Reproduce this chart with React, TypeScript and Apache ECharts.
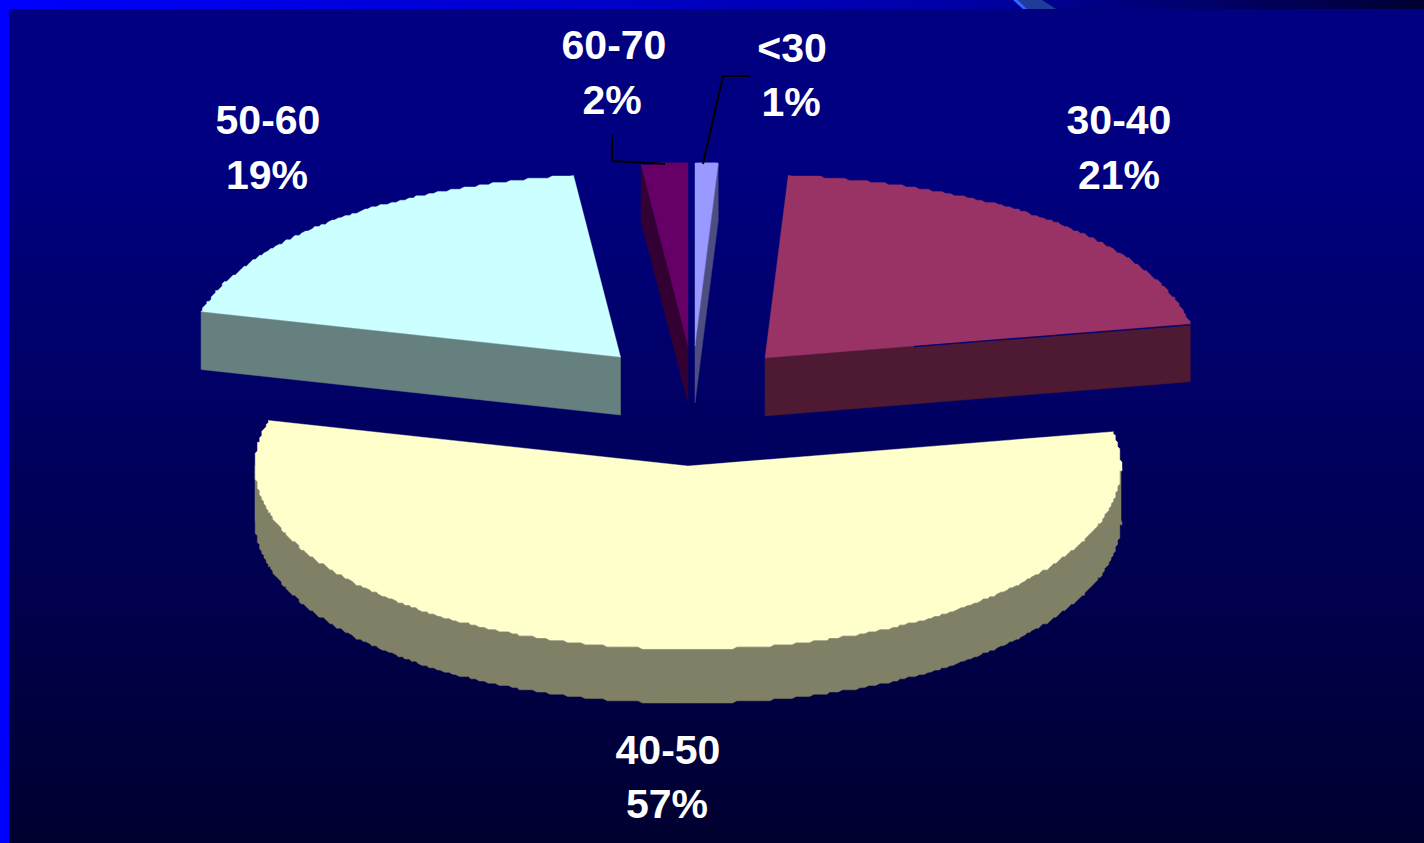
import React, { useEffect, useRef } from "react";
import * as echarts from "echarts";

const categories = ["<30", "30-40", "40-50", "50-60", "60-70"];
const values = [1, 21, 57, 19, 2];

const topColors = ["#9999FF", "#993366", "#FFFFCC", "#CCFFFF", "#660066"];
const wallColors = ["#4D4D80", "#4D1933", "#808066", "#668080", "#330033"];
const apexes = [[695, 346], [765, 358], [688, 466], [620.5, 357], [688, 346]];
const depths = [57, 58, 54, 58, 57];
const nameCentres = [[792, 48], [1119, 120], [668, 750], [268, 120], [614, 45]];
const percentCentres = [[791, 102], [1119, 175], [667, 804], [267, 175], [612, 100]];
const leaders: number[][][] = [
  [[703, 164], [723, 76], [750, 76]],
  [],
  [],
  [],
  [[665, 164], [612, 161], [612, 135]],
];

const RX = 433;
const RY = 183;
const STEP = 0.6;
const GRID = 2.2;

const total = values.reduce((a, b) => a + b, 0);
const starts: number[] = [];
values.reduce((acc, v, i) => {
  starts[i] = acc;
  return acc + v;
}, 0);

function rimPoint(apex: number[], deg: number): number[] {
  const r = (deg * Math.PI) / 180;
  const yn = -Math.cos(r);
  const k = yn < 0 ? 1 - 0.15 * Math.pow(yn, 14) : 1;
  return [apex[0] + RX * Math.sin(r) * k, apex[1] + RY * yn];
}

function snap(p: number[]): number[] {
  return [Math.round(p[0] / GRID) * GRID, Math.round(p[1] / GRID) * GRID];
}

// Samples sit on a fixed angular lattice so that the top face and its wall share one outline.
function rim(apex: number[], a0: number, a1: number): number[][] {
  const pts: number[][] = [rimPoint(apex, a0)];
  for (let k = Math.floor(a0 / STEP) + 1; k * STEP < a1; k++) {
    pts.push(snap(rimPoint(apex, k * STEP)));
  }
  pts.push(rimPoint(apex, a1));
  return pts;
}

function renderSlice(_params: any, api: any) {
  const i = api.value(0) as number;
  const start = api.value(1) as number;
  const v = api.value(2) as number;
  const a0 = (start / total) * 360;
  const a1 = ((start + v) / total) * 360;
  const apex = apexes[i];
  const d = depths[i];
  const arc = rim(apex, a0, a1);
  const children: any[] = [];
  const down = (p: number[]) => [p[0], p[1] + d];
  const wall = (points: number[][]) =>
    children.push({
      type: "polygon",
      shape: { points },
      style: { fill: wallColors[i], stroke: wallColors[i], lineWidth: 0.5 },
    });

  const first = arc[0];
  const last = arc[arc.length - 1];
  // visible radial faces: the clockwise end on the right half, the start on the left half
  if (a1 > 0 && a1 < 180) wall([apex, last, down(last), down(apex)]);
  if (a0 > 180 && a0 < 360) wall([apex, first, down(first), down(apex)]);
  // visible outer wall (front half of the rim)
  const frontFrom = Math.max(a0, 90);
  const frontTo = Math.min(a1, 270);
  if (frontTo > frontFrom) {
    const front = rim(apex, frontFrom, frontTo);
    wall([...front, ...front.slice().reverse().map(down)]);
  }
  // top face
  children.push({
    type: "polygon",
    shape: { points: [apex, ...arc] },
    style: { fill: topColors[i], stroke: topColors[i], lineWidth: 0.4 },
  });
  // thin seam where the large right-hand slice meets its wall
  if (a1 > 45 && a1 < 90) {
    const mid = [apex[0] + (last[0] - apex[0]) * 0.35, apex[1] + (last[1] - apex[1]) * 0.35 + 0.6];
    children.push({
      type: "polyline",
      shape: { points: [mid, [last[0], last[1] + 1.2]] },
      style: { stroke: "#000078", lineWidth: 1.2, fill: "none" },
    });
  }
  // leader line
  if (leaders[i].length) {
    children.push({
      type: "polyline",
      shape: { points: leaders[i] },
      style: { stroke: "#000000", lineWidth: 2, fill: "none" },
    });
  }
  // labels
  const pct = Math.round((v / total) * 100) + "%";
  const textAt = (text: string, c: number[]) =>
    children.push({
      type: "text",
      x: c[0],
      y: c[1],
      style: {
        text,
        fill: "#FFFFFF",
        font: 'bold 41px "Liberation Sans", Arial, sans-serif',
        align: "center",
        verticalAlign: "middle",
      },
    });
  textAt(categories[i], nameCentres[i]);
  textAt(pct, percentCentres[i]);
  return { type: "group", children };
}

export default function App() {
  const ref = useRef<HTMLDivElement>(null);
  useEffect(() => {
    document.body.style.margin = "0";
    const chart = echarts.init(ref.current!, undefined, { renderer: "svg" });
    chart.setOption({
      animation: false,
      backgroundColor: {
        type: "linear",
        x: 0,
        y: 0,
        x2: 0,
        y2: 1,
        colorStops: [
          { offset: 0, color: "#000080" },
          { offset: 0.2, color: "#000080" },
          { offset: 1, color: "#000030" },
        ],
      },
      graphic: [
        {
          type: "rect",
          shape: { x: 0, y: 0, width: 1424, height: 9 },
          style: {
            fill: {
              type: "linear",
              x: 0,
              y: 0,
              x2: 1,
              y2: 0,
              colorStops: [
                { offset: 0, color: "#0000FF" },
                { offset: 0.67, color: "#0000A8" },
                { offset: 1, color: "#000033" },
              ],
            },
          },
        },
        {
          type: "rect",
          shape: { x: 0, y: 0, width: 9, height: 843 },
          style: { fill: "#0000FF" },
        },
        {
          type: "polygon",
          shape: { points: [[1018, 0], [1042, 0], [1056, 9], [1027, 9]] },
          style: { fill: "#1F3C99" },
        },
        {
          type: "polygon",
          shape: { points: [[1013, 0], [1018, 0], [1027, 9], [1023, 9]] },
          style: { fill: "#3366FF" },
        },
      ],
      series: [
        {
          type: "custom",
          coordinateSystem: "none",
          renderItem: renderSlice,
          data: values.map((v, i) => [i, starts[i], v]),
          silent: true,
        },
      ],
    });
    return () => chart.dispose();
  }, []);
  return <div ref={ref} style={{ width: 1424, height: 843 }} />;
}
